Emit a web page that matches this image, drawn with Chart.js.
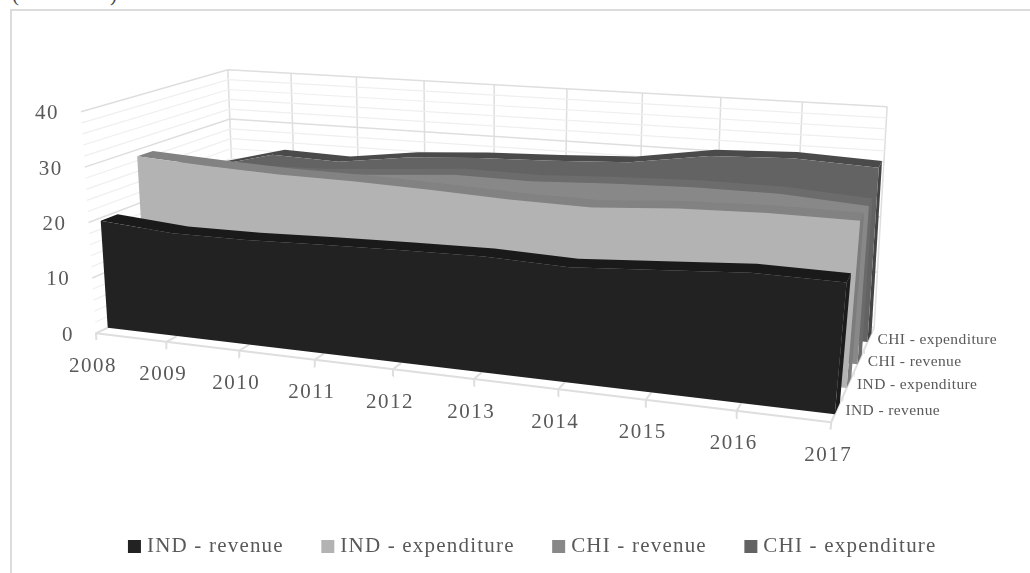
<!DOCTYPE html>
<html>
<head>
<meta charset="utf-8">
<title>Revenue and expenditure</title>
<style>
  html, body { margin: 0; padding: 0; background: #fff; overflow: hidden; }
  #frame { position: absolute; left: 10px; top: 9px; width: 1030px; height: 600px; border: 2px solid #dcdcdc; box-sizing: border-box; }
  .parentese { position: absolute; top: -18px; font: 21px "Liberation Serif", serif; color: #444; }
  #wrap { position: absolute; left: 0; top: 0; width: 1030px; height: 573px; }
</style>
<script src="https://cdn.jsdelivr.net/npm/chart.js@4/dist/chart.umd.min.js"></script>
</head>
<body>
<div class="parentese" style="left: 12px">(</div>
<div class="parentese" style="left: 110px">)</div>
<div id="frame"></div>
<div id="wrap"><canvas id="grafico" width="1030" height="573"></canvas></div>
<script>
const anos = ['2008', '2009', '2010', '2011', '2012', '2013', '2014', '2015', '2016', '2017'];
const series = ['IND - revenue', 'IND - expenditure', 'CHI - revenue', 'CHI - expenditure'];
const indRevenue = [19.5, 18.5, 18.6, 19.1, 19.5, 19.8, 19.4, 20.4, 21.4, 21.3];
const indExpenditure = [28.8, 28.1, 27.6, 27.5, 27.1, 26.6, 26.4, 27.5, 28.0, 28.0];
const chiRevenue = [24.8, 24.7, 25.0, 26.0, 27.1, 27.0, 27.7, 28.2, 28.2, 27.3];
const chiExpenditure = [22.0, 25.3, 24.9, 26.7, 27.6, 28.1, 28.8, 31.0, 31.6, 31.0];
const ticksValor = [0, 10, 20, 30, 40];

const valores = [indRevenue, indExpenditure, chiRevenue, chiExpenditure];
const corFrente = ['#222222', '#b3b3b3', '#888888', '#636363'];
const corTopo = ['#1a1a1a', '#828282', '#6c6c6c', '#4a4a4a'];
const corLado = ['#1c1c1c', '#7c7c7c', '#6a6a6a', '#444444'];
const corGrade = '#dedede';
const corGradeFina = '#efefef';
const corTexto = '#595959';

// cantos da caixa 3D no ecra: [ano, profundidade] para valor 0 e valor 40
const base = { fe: [96, 333], fd: [832, 422], te: [236, 266], td: [875, 327] };
const cima = { fe: [81, 111], fd: [855, 172], te: [228, 69], td: [888, 106] };
const perspectiva = 1.18;
const perspectivaFundo = 0.85;
const larguraFatia = 0.105;

function mistura(a, b, f) {
  return [a[0] + (b[0] - a[0]) * f, a[1] + (b[1] - a[1]) * f];
}

// t = 0..1 ao longo dos anos, d = 0..1 em profundidade, v = valor do eixo
function projetar(t, d, v) {
  const f = t / (t + perspectiva * (1 - t));
  const g = d / (d + perspectivaFundo * (1 - d));
  const p0 = mistura(mistura(base.fe, base.fd, f), mistura(base.te, base.td, f), g);
  const p1 = mistura(mistura(cima.fe, cima.fd, f), mistura(cima.te, cima.td, f), g);
  const p = mistura(p0, p1, v / 40);
  return { x: p[0], y: p[1] };
}

function posAno(i) {
  return i / (anos.length - 1);
}

function forma(pontos, cor, label) {
  pontos.push(pontos[0]);
  return {
    label: label || '',
    data: pontos,
    showLine: true,
    fill: 'shape',
    tension: 0,
    borderWidth: 0,
    borderColor: cor,
    backgroundColor: cor,
    pointRadius: 0
  };
}

function linha(pontos, cor, largura) {
  return {
    label: '',
    data: pontos,
    showLine: true,
    fill: false,
    tension: 0,
    borderWidth: largura,
    borderColor: cor,
    backgroundColor: cor,
    pointRadius: 0
  };
}

const datasets = [];

// o primeiro dataset fica por cima, por isso as fatias da frente vem primeiro
series.forEach((nome, s) => {
  const d0 = (s + 0.5) / series.length - larguraFatia / 2;
  const d1 = d0 + larguraFatia;
  const vals = valores[s];
  const frenteTopo = vals.map((v, i) => projetar(posAno(i), d0, v));
  const trasTopo = vals.map((v, i) => projetar(posAno(i), d1, v));
  const ultimo = vals[vals.length - 1];

  datasets.push(forma([...frenteTopo, projetar(1, d0, 0), projetar(0, d0, 0)], corFrente[s], nome));
  datasets.push(forma([...frenteTopo, ...trasTopo.reverse()], corTopo[s]));
  datasets.push(forma([projetar(1, d0, 0), projetar(1, d1, 0), projetar(1, d1, ultimo), projetar(1, d0, ultimo)], corLado[s]));
});

// chao: eixo da frente, marcas e linhas para tras
datasets.push(linha([projetar(0, 0, 0), projetar(1, 0, 0)], corGrade, 2));
datasets.push(linha([projetar(1, 0, 0), projetar(1, 1, 0)], corGrade, 2));
anos.forEach((a, i) => {
  datasets.push(linha([projetar(posAno(i), 0, -1.2), projetar(posAno(i), 0, 0), projetar(posAno(i), 0.07, 0)], corGrade, 2));
  datasets.push(linha([projetar(posAno(i), 0.07, 0), projetar(posAno(i), 1, 0)], corGradeFina, 1));
});
series.forEach((nome, s) => {
  const d = s / series.length;
  datasets.push(linha([projetar(1, d, 0), projetar(1.0, d, -1)], corGrade, 1));
});

// paredes de tras e da esquerda
for (let v = 0; v <= 40; v += 2) {
  const forte = v % 10 === 0;
  const cor = forte ? corGrade : corGradeFina;
  datasets.push(linha([projetar(0, 0, v), projetar(0, 1, v), projetar(1, 1, v)], cor, forte ? 1.5 : 1.2));
}
anos.forEach((a, i) => {
  datasets.push(linha([projetar(posAno(i), 1, 0), projetar(posAno(i), 1, 40)], corGrade, 1.5));
});

const rotulos3d = {
  id: 'rotulos3d',
  afterDraw(chart) {
    const ctx = chart.ctx;
    const sx = chart.scales.x;
    const sy = chart.scales.y;
    ctx.save();
    ctx.fillStyle = corTexto;
    ctx.textBaseline = 'middle';

    ctx.font = '21px "Liberation Serif"';
    ctx.letterSpacing = '1.5px';
    ctx.textAlign = 'center';
    anos.forEach((a, i) => {
      const p = projetar(posAno(i), 0, 0);
      ctx.fillText(a, sx.getPixelForValue(p.x) - 3, sy.getPixelForValue(p.y) + 33);
    });

    ctx.textAlign = 'right';
    ticksValor.forEach(v => {
      const p = projetar(0, 0, v);
      ctx.fillText(String(v), sx.getPixelForValue(p.x) - 22, sy.getPixelForValue(p.y) + 2);
    });

    ctx.font = '15.5px "Liberation Serif"';
    ctx.letterSpacing = '0.4px';
    ctx.textAlign = 'left';
    series.forEach((nome, s) => {
      const p = projetar(1, (s + 0.5) / series.length, 0);
      ctx.fillText(nome, sx.getPixelForValue(p.x) + 8, sy.getPixelForValue(p.y) + 2.5);
    });
    ctx.restore();
  }
};

Chart.defaults.animation = false;

const grafico = new Chart(document.getElementById('grafico'), {
  type: 'scatter',
  data: { datasets },
  plugins: [rotulos3d],
  options: {
    responsive: false,
    animation: false,
    layout: { padding: { left: 39, right: 0, top: 0, bottom: 6 } },
    scales: {
      x: { type: 'linear', min: 39, max: 1030, display: false },
      y: { type: 'linear', min: 0, max: 573, reverse: true, display: false }
    },
    plugins: {
      tooltip: { enabled: false },
      legend: {
        position: 'bottom',
        onClick: null,
        labels: {
          filter: item => series.includes(item.text),
          usePointStyle: true,
          pointStyle: 'rect',
          boxWidth: 4,
          boxHeight: 13,
          padding: 42,
          color: corTexto,
          font: { family: '"Liberation Serif"', size: 21 }
        }
      }
    }
  }
});

// segunda passagem: escala em pixels iguais aos da pagina e legenda com o espacamento de letras
grafico.ctx.letterSpacing = '1.2px';
grafico.update('none');
grafico.options.scales.y.max = grafico.chartArea.bottom;
grafico.update('none');
</script>
</body>
</html>
